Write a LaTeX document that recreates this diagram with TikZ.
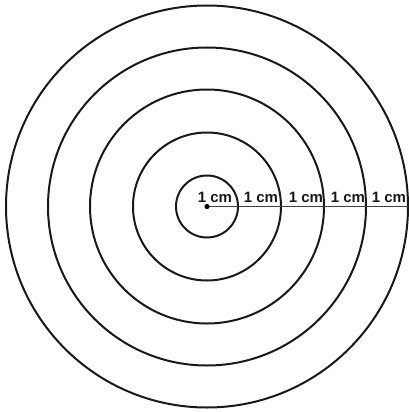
\documentclass[tikz,border=0pt]{standalone}
\usepackage{fontspec}
\setmainfont{Liberation Sans}
\begin{document}
\begin{tikzpicture}[x=1pt,y=-1pt,
  ring/.style={draw=black!90,line width=2pt},
  radius line/.style={draw=black!75,line width=1.4pt},
  lbl/.style={font=\fontsize{15}{16}\selectfont\bfseries,text=black!90,anchor=base,inner sep=0pt}]
\useasboundingbox (0,0) rectangle (408,412);
\coordinate (c) at (207,206.5);
\foreach \r in {31,74,117,159,201}{
  \draw[ring] (c) circle[radius=\r];
}
\coordinate (e) at (408,206.5);
\draw[radius line] (c) -- (e);
\fill[black] (c) circle[radius=2.6];
\node[lbl] (l1) at (215,202) {1 cm};
\node[lbl] (l2) at (261,202) {1 cm};
\node[lbl] (l3) at (306,202) {1 cm};
\node[lbl] (l4) at (348,202) {1 cm};
\node[lbl] (l5) at (389,202) {1 cm};
\end{tikzpicture}
\end{document}
